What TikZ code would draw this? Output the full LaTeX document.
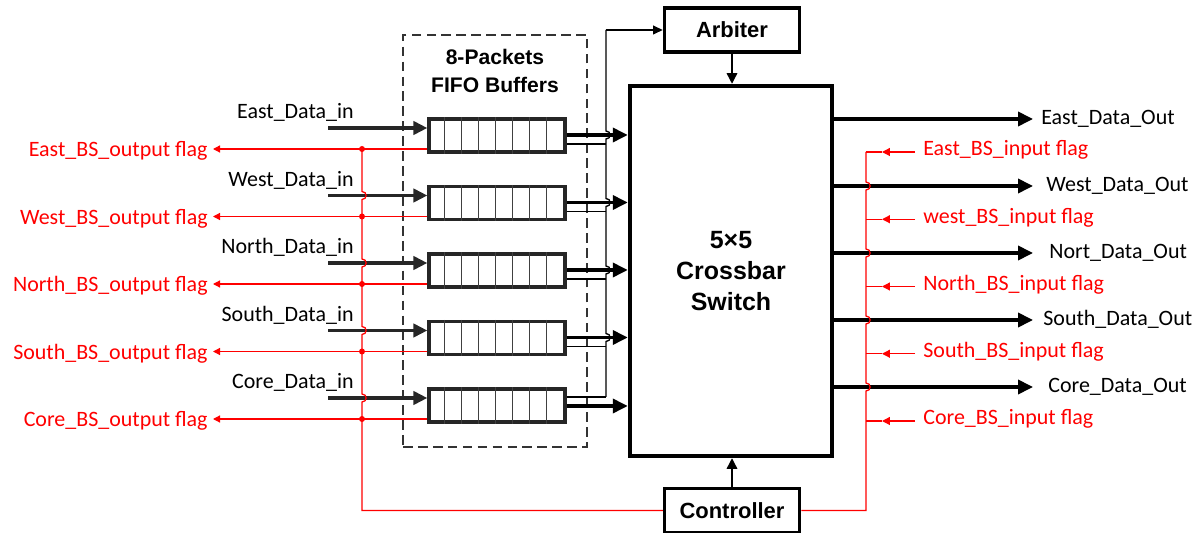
\documentclass[tikz,border=0pt]{standalone}
\usepackage{fontspec}
\setmainfont{Carlito}
\newfontfamily\arialfont{Liberation Sans}
\usetikzlibrary{arrows.meta,calc}

\begin{document}
\begin{tikzpicture}[x=0.02cm,y=-0.02cm,
    lbl/.style={inner sep=0pt,font=\fontsize{12.5}{15}\selectfont},
    flagtxt/.style={lbl,text=red},
    blk/.style={draw,line width=2pt,font=\arialfont\bfseries\fontsize{12.5}{15}\selectfont,
      minimum width=2.7cm,minimum height=0.88cm,inner sep=0pt},
    fifo/.style={draw=black!85,line width=1.8pt,minimum width=2.72cm,minimum height=0.66cm,inner sep=0pt},
    cell/.style={draw=black!75,line width=0.8pt},
    inln/.style={draw=black!85,line width=2pt,-{Triangle[length=8pt,width=7.5pt]}},
    outln/.style={line width=1.9pt,-{Triangle[length=8.5pt,width=8pt]}},
    thinln/.style={line width=0.75pt},
    flagln/.style={red,line width=0.7pt}]
  \useasboundingbox (0,0) rectangle (1204,533);

  \node[draw,line width=2.6pt,minimum width=4.04cm,minimum height=7.4cm,align=center,
    font=\arialfont\bfseries\fontsize{14.2}{17.5}\selectfont] (xbar) at (731,271) {5×5\\Crossbar\\Switch};
  \node[blk] (arb) at (732,30) {Arbiter};
  \node[blk] (ctrl) at (732,510.5) {Controller};
  \draw[thinln,-{Triangle[length=6pt,width=6pt]}] (arb.south) -- (arb.south |- xbar.north);
  \draw[thinln,-{Triangle[length=6pt,width=6pt]}] (ctrl.north) -- (ctrl.north |- xbar.south);

  % FIFO buffers
  \node[draw=black!80,line width=0.8pt,dash pattern=on 5.5pt off 3pt,
    minimum width=3.68cm,minimum height=8.24cm] (fbox) at (495,241) {};
  \node[align=center,font=\arialfont\bfseries\fontsize{12}{16}\selectfont] (ftitle) at (495,71) {8-Packets\\FIFO Buffers};

  \coordinate (lbus) at (362,149);
  \coordinate (abus) at (606,30);
  \coordinate (rbus) at (866,152);

  \foreach \nm/\lab/\i/\ta/\tb in {E/East/0/-0.5/8.5,W/West/1/-0.5/8.5,N/North/2/-0.5/8.5,S/South/3/-0.5/8.5,C/Core/4/0.5/-8.5}{
    \pgfmathsetmacro\yc{135.5+67.5*\i}
    \node[fifo] (f\nm) at (497,\yc) {};
    \foreach \k in {1,...,7}
      \draw[cell] ([xshift=\k*0.34cm]f\nm.north west) -- ([xshift=\k*0.34cm]f\nm.south west);
    \coordinate (din\nm) at (328,\yc-7.5);
    \node[lbl,anchor=base east] (tin\nm) at (354,\yc-16.5) {\lab\_Data\_in};
    \draw[inln] (din\nm) -- (din\nm -| f\nm.west);
    \coordinate (fo\nm) at (213,\yc+13.5);
    \node[flagtxt,anchor=base east] (tfo\nm) at (208,\yc+21.5) {\lab\_BS\_output flag};
    \draw[flagln,-{Triangle[length=4pt,width=4pt]}] (fo\nm -| f\nm.west) -- (fo\nm);
    \fill[red] (lbus |- fo\nm) circle (3);
    \coordinate (xo\nm) at ($(f\nm.east)+(0,\ta)$);
    \coordinate (bo\nm) at ($(f\nm.east)+(0,\tb)$);
    \draw[outln] (xo\nm) -- (xo\nm -| xbar.west);
    \draw[thinln] (bo\nm) -- (bo\nm -| abus);
  }

  % bus to arbiter
  \draw[thinln,-{Triangle[length=5.5pt,width=5pt]}] (abus) -- (arb.west);
  \draw[thinln] (abus) \foreach \nm in {E,W,N,S}{
      -- ($(abus |- xo\nm)+(0,-4)$) .. controls +(5.5,0) and +(5.5,0) .. ($(abus |- xo\nm)+(0,4)$)}
    -- (abus |- boC);
  \draw[flagln] (lbus) \foreach \nm in {W,N,S,C}{
      -- ($(lbus |- din\nm)+(0,-4)$) .. controls +(5.5,0) and +(5.5,0) .. ($(lbus |- din\nm)+(0,4)$)}
    -- (lbus |- ctrl.west) -- (ctrl.west);

  % outputs
  \foreach \lab/\flab/\i/\tx in {East/East/0/1041,West/west/1/1046,Nort/North/2/1049,South/South/3/1043,Core/Core/4/1048}{
    \pgfmathsetmacro\yo{119+67*\i}
    \pgfmathsetmacro\yf{152+67.25*\i}
    \coordinate (do\i) at (1033,\yo);
    \draw[outln] (do\i -| xbar.east) -- (do\i);
    \node[lbl,anchor=base west] (tout\i) at (\tx,\yo+6) {\lab\_Data\_Out};
    \coordinate (fi\i) at (915,\yf);
    \coordinate (fa\i) at (882,\yf);
    \node[flagtxt,anchor=base west] (tfi\i) at (923,\yf+4) {\flab\_BS\_input flag};
    \draw[flagln,-{Triangle[length=4.5pt,width=4.5pt]}] (fi\i) -- (fa\i);
    \draw[flagln] (fa\i) -- (rbus |- fa\i);
  }
  \draw[flagln] (rbus) \foreach \i in {1,...,4}{
      -- ($(rbus |- do\i)+(0,-4)$) .. controls +(5.5,0) and +(5.5,0) .. ($(rbus |- do\i)+(0,4)$)}
    -- (rbus |- ctrl.east) -- (ctrl.east);
\end{tikzpicture}
\end{document}
